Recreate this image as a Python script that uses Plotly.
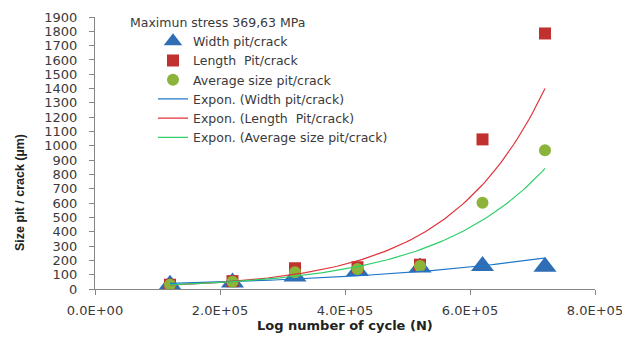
import numpy as np
import plotly.graph_objects as go

# ---- data ----
cycles = [1.2e5, 2.2e5, 3.2e5, 4.2e5, 5.2e5, 6.2e5, 7.2e5]
width_pit = [30, 45, 88, 125, 150, 160, 155]
length_pit = [30, 55, 145, 152, 170, 1045, 1785]
avg_pit = [30, 50, 117, 139, 160, 602, 970]

x_tickvals = [0, 2e5, 4e5, 6e5, 8e5]
x_ticktext = ["0.0E+00", "2.0E+05", "4.0E+05", "6.0E+05", "8.0E+05"]
y_tickvals = list(range(0, 2000, 100))

names = ["Width pit/crack", "Length\u00a0 Pit/crack", "Average size pit/crack"]
series = [width_pit, length_pit, avg_pit]
marker_colors = ["#2f6db5", "#c0312f", "#8cb33a"]
marker_symbols = ["triangle-up", "square", "circle"]
marker_sizes = [20, 12, 12]
trend_colors = ["#1f78c8", "#e0333a", "#2fcf6a"]

TXT = "#3a3a3a"
FONT = "DejaVu Sans"

fig = go.Figure()

for name, ys, col, sym, sz in zip(names, series, marker_colors, marker_symbols, marker_sizes):
    fig.add_trace(go.Scatter(
        x=cycles, y=ys, mode="markers", name=name,
        marker=dict(symbol=sym, size=sz, color=col, line=dict(width=0)),
    ))

# exponential trendlines (least squares on log values, like Excel)
xc = np.array(cycles)
xs = np.linspace(xc.min(), xc.max(), 120)
for name, ys, col in zip(names, series, trend_colors):
    b, a = np.polyfit(xc, np.log(np.array(ys, dtype=float)), 1)
    fig.add_trace(go.Scatter(
        x=xs, y=np.exp(a + b * xs), mode="lines",
        name="Expon. (" + name + ")",
        line=dict(color=col, width=1.2),
    ))

# the page body adds an 8px offset; size the figure to fit the window
fig.update_layout(
    width=622, height=332,
    margin=dict(l=87, r=35, t=9, b=51),
    paper_bgcolor="white", plot_bgcolor="white",
    font=dict(family=FONT, size=12, color=TXT),
    showlegend=True,
    legend=dict(
        x=0.116, y=0.965, xanchor="left", yanchor="top",
        bgcolor="rgba(0,0,0,0)", font=dict(size=12.5, color=TXT, family=FONT),
        itemsizing="trace", tracegroupgap=0,
    ),
    xaxis=dict(
        range=[0, 8e5], tickvals=x_tickvals, ticktext=x_ticktext,
        showgrid=False, zeroline=False, showline=True, linecolor="#868686",
        linewidth=1, ticks="outside", ticklen=5, tickcolor="#868686",
        tickfont=dict(size=13, color=TXT, family=FONT), ticklabelstandoff=4,
        automargin=False,
    ),
    yaxis=dict(
        range=[0, 1900], tickvals=y_tickvals,
        showgrid=False, zeroline=False, showline=True, linecolor="#868686",
        linewidth=1, ticks="outside", ticklen=5, tickcolor="#868686",
        tickfont=dict(size=13, color=TXT, family=FONT), ticklabelstandoff=9,
        automargin=False,
    ),
    annotations=[
        dict(text="Maximun stress 369,63 MPa", xref="paper", yref="paper",
             x=0.066, y=0.978, xanchor="left", yanchor="middle", showarrow=False,
             font=dict(size=12.5, color=TXT, family=FONT)),
        dict(text="<b>Log number of cycle (N)</b>", xref="paper", yref="paper",
             x=0.5, y=-0.135, xanchor="center", yanchor="middle", showarrow=False,
             font=dict(size=13, color="#222", family=FONT)),
        dict(text="<b>Size pit / crack (µm)</b>", xref="paper", yref="paper",
             x=-0.15, y=0.353, xanchor="center", yanchor="middle", showarrow=False,
             textangle=-90,
             font=dict(size=12.5, color="#222", family="Liberation Sans Narrow, Liberation Sans")),
    ],
)

fig.write_html("out.html")
